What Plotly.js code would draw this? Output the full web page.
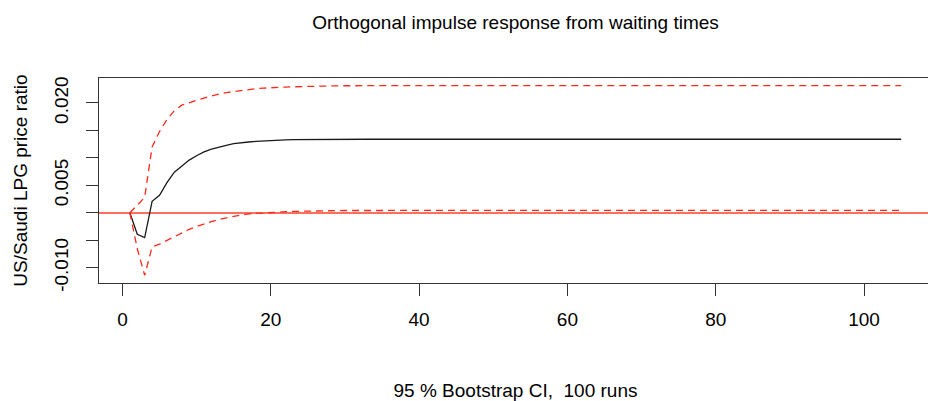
<!DOCTYPE html>
<html>
<head>
<meta charset="utf-8">
<script src="https://cdn.plot.ly/plotly-3.0.1.min.js"></script>
<style>
  html, body { margin: 0; padding: 0; overflow: hidden; background: #fff; }
  #chart { width: 940px; height: 401px; }
</style>
</head>
<body>
<div id="chart"></div>
<script>
// Horizon steps 1..105 (category index)
const horizons = Array.from({length: 105}, (_, i) => i + 1);

// Orthogonal impulse response (black line)
const irf = [
  0, -0.0039, -0.0045, 0.0021, 0.0032, 0.0055, 0.0074, 0.0085, 0.0096, 0.0104,
  0.0111, 0.0116, 0.0120, 0.0123, 0.0126, 0.0128, 0.0129, 0.0130, 0.0131, 0.0132,
  0.01325, 0.0133, 0.01333, 0.01335, 0.01337, 0.01338, 0.01339, 0.0134, 0.0134, 0.0134,
  0.0134, 0.0134, 0.0134, 0.0134, 0.0134, 0.0134, 0.0134, 0.0134, 0.0134, 0.0134,
  0.0134, 0.0134, 0.0134, 0.0134, 0.0134, 0.0134, 0.0134, 0.0134, 0.0134, 0.0134,
  0.0134, 0.0134, 0.0134, 0.0134, 0.0134, 0.0134, 0.0134, 0.0134, 0.0134, 0.0134,
  0.0134, 0.0134, 0.0134, 0.0134, 0.0134, 0.0134, 0.0134, 0.0134, 0.0134, 0.0134,
  0.0134, 0.0134, 0.0134, 0.0134, 0.0134, 0.0134, 0.0134, 0.0134, 0.0134, 0.0134,
  0.0134, 0.0134, 0.0134, 0.0134, 0.0134, 0.0134, 0.0134, 0.0134, 0.0134, 0.0134,
  0.0134, 0.0134, 0.0134, 0.0134, 0.0134, 0.0134, 0.0134, 0.0134, 0.0134, 0.0134,
  0.0134, 0.0134, 0.0134, 0.0134, 0.0134
];

// Upper bootstrap bound (red dashed)
const upper = [
  0, 0.0014, 0.0028, 0.0120, 0.0148, 0.0170, 0.0186, 0.0196, 0.0201, 0.0205,
  0.0209, 0.0213, 0.0216, 0.0219, 0.0221, 0.0223, 0.0225, 0.0226, 0.0227, 0.0228,
  0.02285, 0.0229, 0.02295, 0.0230, 0.02303, 0.02306, 0.02309, 0.02311, 0.02313, 0.02314,
  0.02315, 0.02316, 0.02317, 0.02317, 0.02317, 0.02317, 0.02317, 0.02317, 0.02317, 0.02317,
  0.02317, 0.02317, 0.02317, 0.02317, 0.02317, 0.02317, 0.02317, 0.02317, 0.02317, 0.02317,
  0.02317, 0.02317, 0.02317, 0.02317, 0.02317, 0.02317, 0.02317, 0.02317, 0.02317, 0.02317,
  0.02317, 0.02317, 0.02317, 0.02317, 0.02317, 0.02317, 0.02317, 0.02317, 0.02317, 0.02317,
  0.02317, 0.02317, 0.02317, 0.02317, 0.02317, 0.02317, 0.02317, 0.02317, 0.02317, 0.02317,
  0.02317, 0.02317, 0.02317, 0.02317, 0.02317, 0.02317, 0.02317, 0.02317, 0.02317, 0.02317,
  0.02317, 0.02317, 0.02317, 0.02317, 0.02317, 0.02317, 0.02317, 0.02317, 0.02317, 0.02317,
  0.02317, 0.02317, 0.02317, 0.02317, 0.02317
];

// Lower bootstrap bound (red dashed)
const lower = [
  0, -0.0065, -0.0114, -0.0062, -0.0057, -0.0050, -0.0043, -0.0036, -0.0030, -0.0025,
  -0.0020, -0.0016, -0.0012, -0.0009, -0.0006, -0.0004, -0.0002, -0.0001, 0.0000, 0.0001,
  0.00015, 0.0002, 0.00025, 0.0003, 0.00033, 0.00036, 0.00038, 0.0004, 0.00041, 0.00042,
  0.00043, 0.00044, 0.00044, 0.00044, 0.00044, 0.00044, 0.00044, 0.00044, 0.00044, 0.00044,
  0.00044, 0.00044, 0.00044, 0.00044, 0.00044, 0.00044, 0.00044, 0.00044, 0.00044, 0.00044,
  0.00044, 0.00044, 0.00044, 0.00044, 0.00044, 0.00044, 0.00044, 0.00044, 0.00044, 0.00044,
  0.00044, 0.00044, 0.00044, 0.00044, 0.00044, 0.00044, 0.00044, 0.00044, 0.00044, 0.00044,
  0.00044, 0.00044, 0.00044, 0.00044, 0.00044, 0.00044, 0.00044, 0.00044, 0.00044, 0.00044,
  0.00044, 0.00044, 0.00044, 0.00044, 0.00044, 0.00044, 0.00044, 0.00044, 0.00044, 0.00044,
  0.00044, 0.00044, 0.00044, 0.00044, 0.00044, 0.00044, 0.00044, 0.00044, 0.00044, 0.00044,
  0.00044, 0.00044, 0.00044, 0.00044, 0.00044
];

const xTickVals = [0, 20, 40, 60, 80, 100];
const yTickVals = [-0.010, -0.005, 0.000, 0.005, 0.010, 0.015, 0.020];
const yTickText = ["-0.010", "", "", "0.005", "", "", "0.020"];

const titleText = "Orthogonal impulse response from waiting times";
const xTitleText = "95 % Bootstrap CI,\u00a0 100 runs";
const yTitleText = "US/Saudi LPG price ratio";

const FONT = "Liberation Sans, Arial, Helvetica, sans-serif";
const dashStyle = "7px,5px";

const traces = [
  { x: horizons, y: irf, type: "scatter", mode: "lines",
    line: { color: "#1a1a1a", width: 1.3 }, hoverinfo: "skip" },
  { x: horizons, y: upper, type: "scatter", mode: "lines",
    line: { color: "#ff2a1a", width: 1.3, dash: dashStyle }, hoverinfo: "skip" },
  { x: horizons, y: lower, type: "scatter", mode: "lines",
    line: { color: "#ff2a1a", width: 1.3, dash: dashStyle }, hoverinfo: "skip" }
];

const layout = {
  width: 940, height: 401,
  margin: { l: 99, r: 8, t: 78, b: 118, pad: 0 },
  paper_bgcolor: "#fff", plot_bgcolor: "#fff",
  showlegend: false,
  font: { family: FONT, size: 19, color: "#000" },
  title: {
    text: titleText, font: { family: FONT, size: 19, color: "#000" },
    x: 0.5, xref: "paper", xanchor: "center",
    y: 1 - 22 / 401, yref: "container", yanchor: "middle"
  },
  xaxis: {
    range: [-3.16, 109.16], tickmode: "array", tickvals: xTickVals,
    ticks: "outside", ticklen: 12, tickwidth: 1, tickcolor: "#333",
    ticklabelstandoff: 7,
    showline: true, mirror: true, linecolor: "#333", linewidth: 1.3,
    showgrid: false, zeroline: false,
    tickfont: { family: FONT, size: 19, color: "#000" },
    title: { text: xTitleText, standoff: 57, font: { family: FONT, size: 19, color: "#000" } }
  },
  yaxis: {
    range: [-0.01278, 0.02455], tickmode: "array", tickvals: yTickVals, ticktext: yTickText,
    tickangle: -90,
    ticks: "outside", ticklen: 12, tickwidth: 1, tickcolor: "#333",
    ticklabelstandoff: 10,
    showline: true, mirror: true, linecolor: "#333", linewidth: 1.3,
    showgrid: false,
    zeroline: true, zerolinecolor: "#ff6f5f", zerolinewidth: 2,
    tickfont: { family: FONT, size: 19, color: "#000" },
    title: { text: yTitleText, standoff: 18, font: { family: FONT, size: 19, color: "#000" } }
  }
};

Plotly.newPlot("chart", traces, layout, { displayModeBar: false, staticPlot: true });
</script>
</body>
</html>
